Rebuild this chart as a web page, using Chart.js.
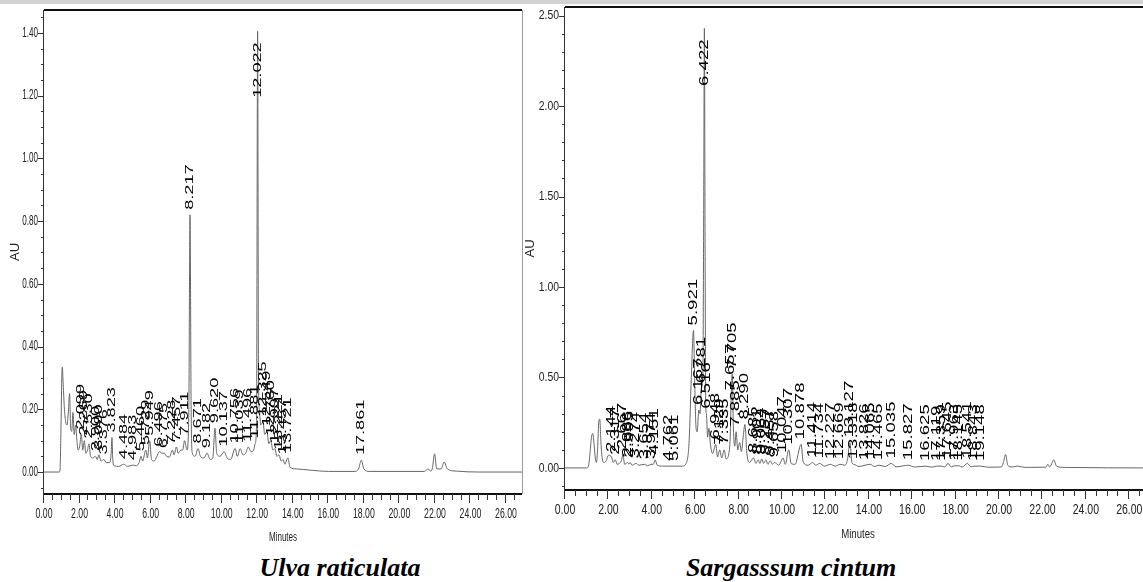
<!DOCTYPE html>
<html>
<head>
<meta charset="utf-8">
<title>Chromatograms</title>
<script src="https://cdn.jsdelivr.net/npm/chart.js@4.4.1/dist/chart.umd.min.js"></script>
<style>
  html, body { margin: 0; padding: 0; background: #fff; width: 1143px; height: 582px; overflow: hidden; position: relative; }
  .topband { position: absolute; left: 0; top: 0; width: 1143px; height: 4px; background: #d2d2d2; }
  canvas { position: absolute; top: 0; }
  #ulva { left: 0; }
  #sarg { left: 520px; }
  .name { position: absolute; top: 555px; font: italic bold 26px "Liberation Serif", "Times New Roman", serif; line-height: 26px; white-space: nowrap; transform: translateX(-50%); color: #000; }
</style>
</head>
<body>
<div class="topband"></div>
<canvas id="ulva" width="545" height="548"></canvas>
<canvas id="sarg" width="640" height="548"></canvas>
<div class="name" style="left:340px">Ulva raticulata</div>
<div class="name" style="left:791px">Sargasssum cintum</div>
<script>
"use strict";

// data

const ulvaMinutes = [0, 0.85, 0.9, 0.95, 1.0, 1.03, 1.08, 1.15, 1.22, 1.3, 1.38, 1.44, 1.5, 1.56, 1.63, 1.7, 1.78, 1.85, 1.92, 2.0,
  2.099, 2.18, 2.269, 2.35, 2.45, 2.53, 2.62, 2.75, 2.9, 3.0, 3.09, 3.2, 3.376, 3.5, 3.7, 3.78, 3.823, 3.87, 3.95, 4.2,
  4.484, 4.7, 4.983, 5.2, 5.35, 5.46, 5.55, 5.729, 5.82, 5.949, 6.05, 6.2, 6.35, 6.496, 6.65, 6.775, 6.9, 7.05, 7.228, 7.32,
  7.457, 7.55, 7.7, 7.8, 7.911, 8.05, 8.15, 8.217, 8.28, 8.35, 8.5, 8.671, 8.8, 9.0, 9.182, 9.35, 9.5, 9.62, 9.72, 9.9,
  10.137, 10.3, 10.5, 10.756, 10.88, 11.039, 11.2, 11.35, 11.496, 11.65, 11.8, 11.881, 11.96, 12.022, 12.07, 12.12, 12.2, 12.325, 12.42, 12.549,
  12.65, 12.76, 12.88, 12.997, 13.1, 13.221, 13.35, 13.457, 13.55, 13.721, 13.85, 14.2, 15.0, 16.0, 17.5, 17.7, 17.861, 18.0, 18.3, 21.4,
  21.62, 21.75, 21.85, 21.98, 22.1, 22.35, 22.52, 22.7, 23.2, 24.5, 26.9];
const ulvaAU = [0, 0, 0.005, 0.12, 0.3, 0.335, 0.28, 0.2, 0.16, 0.15, 0.2, 0.25, 0.14, 0.13, 0.19, 0.12, 0.15, 0.1, 0.07, 0.08,
  0.12, 0.07, 0.1, 0.06, 0.07, 0.09, 0.05, 0.045, 0.05, 0.04, 0.055, 0.035, 0.04, 0.03, 0.03, 0.06, 0.11, 0.04, 0.02, 0.018,
  0.025, 0.018, 0.022, 0.02, 0.03, 0.05, 0.035, 0.07, 0.045, 0.1, 0.04, 0.035, 0.05, 0.065, 0.06, 0.06, 0.05, 0.048, 0.07, 0.055,
  0.08, 0.06, 0.07, 0.07, 0.1, 0.07, 0.2, 0.82, 0.2, 0.06, 0.05, 0.075, 0.05, 0.045, 0.06, 0.04, 0.045, 0.14, 0.06, 0.05,
  0.065, 0.045, 0.04, 0.075, 0.05, 0.075, 0.055, 0.06, 0.08, 0.065, 0.07, 0.09, 0.15, 1.405, 0.3, 0.2, 0.15, 0.16, 0.12, 0.13,
  0.09, 0.1, 0.07, 0.075, 0.05, 0.055, 0.035, 0.04, 0.025, 0.045, 0.015, 0.01, 0.006, 0.002, 0.002, 0.01, 0.038, 0.01, 0.002, 0.002,
  0.01, 0.003, 0.01, 0.058, 0.01, 0.01, 0.032, 0.01, 0.003, 0, 0];
const ulvaPeaks = [2.099, 2.269, 2.530, 2.900, 3.090, 3.376, 3.823, 4.484, 4.983, 5.460, 5.729, 5.949, 6.496, 6.775, 7.228, 7.457, 7.911,
  8.217, 8.671, 9.182, 9.620, 10.137, 10.756, 11.039, 11.496, 11.881, 12.022, 12.325, 12.549, 12.760, 12.997, 13.221, 13.457, 13.721, 17.861];

const sargMinutes = [0, 1.0, 1.08, 1.15, 1.22, 1.28, 1.34, 1.4, 1.45, 1.5, 1.56, 1.6, 1.66, 1.72, 1.8, 1.9, 2.0, 2.144, 2.22, 2.317,
  2.4, 2.5, 2.6, 2.667, 2.75, 2.886, 2.95, 2.995, 3.1, 3.274, 3.4, 3.654, 3.8, 3.974, 4.07, 4.151, 4.25, 4.5, 4.762, 5.061,
  5.4, 5.6, 5.72, 5.82, 5.921, 5.98, 6.04, 6.09, 6.167, 6.22, 6.281, 6.35, 6.39, 6.422, 6.455, 6.485, 6.516, 6.57, 6.63, 6.7,
  6.8, 6.948, 7.03, 7.129, 7.22, 7.335, 7.42, 7.55, 7.62, 7.657, 7.705, 7.76, 7.82, 7.885, 7.96, 8.05, 8.13, 8.2, 8.29, 8.38,
  8.5, 8.685, 8.8, 8.901, 8.98, 9.064, 9.15, 9.257, 9.35, 9.457, 9.55, 9.658, 9.85, 10.047, 10.15, 10.307, 10.42, 10.6, 10.878, 10.98,
  11.2, 11.414, 11.55, 11.734, 11.95, 12.227, 12.45, 12.669, 12.9, 13.02, 13.127, 13.22, 13.318, 13.55, 13.826, 14.065, 14.25, 14.465, 14.75, 15.035,
  15.25, 15.827, 16.1, 16.625, 16.9, 17.119, 17.359, 17.5, 17.645, 17.8, 17.963, 18.145, 18.3, 18.541, 18.7, 18.843, 19.148, 19.5, 20.1, 20.2,
  20.3, 20.4, 20.6, 20.85, 21.2, 22.15, 22.25, 22.33, 22.45, 22.52, 22.65, 23.0, 27];
const sargAU = [0, 0, 0.01, 0.08, 0.17, 0.19, 0.13, 0.05, 0.03, 0.1, 0.26, 0.27, 0.13, 0.05, 0.03, 0.04, 0.07, 0.06, 0.03, 0.045,
  0.02, 0.025, 0.04, 0.075, 0.02, 0.03, 0.02, 0.03, 0.015, 0.025, 0.015, 0.02, 0.012, 0.02, 0.02, 0.045, 0.015, 0.01, 0.01, 0.01,
  0.01, 0.03, 0.15, 0.5, 0.76, 0.45, 0.22, 0.2, 0.32, 0.3, 0.44, 0.5, 1.4, 2.43, 1.2, 0.35, 0.3, 0.17, 0.22, 0.13,
  0.08, 0.13, 0.06, 0.1, 0.055, 0.1, 0.05, 0.08, 0.2, 0.4, 0.52, 0.22, 0.12, 0.2, 0.1, 0.14, 0.09, 0.16, 0.24, 0.08,
  0.03, 0.055, 0.025, 0.045, 0.025, 0.05, 0.025, 0.045, 0.02, 0.04, 0.02, 0.03, 0.015, 0.055, 0.02, 0.1, 0.025, 0.02, 0.13, 0.03,
  0.015, 0.03, 0.015, 0.025, 0.01, 0.02, 0.01, 0.02, 0.015, 0.05, 0.14, 0.03, 0.02, 0.008, 0.015, 0.02, 0.008, 0.015, 0.008, 0.025,
  0.006, 0.015, 0.005, 0.01, 0.004, 0.01, 0.01, 0.005, 0.025, 0.006, 0.012, 0.012, 0.005, 0.025, 0.006, 0.01, 0.01, 0.004, 0.005, 0.03,
  0.075, 0.015, 0.005, 0.01, 0.003, 0.004, 0.02, 0.005, 0.03, 0.045, 0.01, 0.003, 0];
const sargPeaks = [2.144, 2.317, 2.667, 2.886, 2.995, 3.274, 3.654, 3.974, 4.151, 4.762, 5.061, 5.921, 6.167, 6.281, 6.422, 6.516,
  6.948, 7.129, 7.335, 7.657, 7.705, 7.885, 8.290, 8.685, 8.901, 9.064, 9.257, 9.457, 9.658, 10.047, 10.307, 10.878, 11.414, 11.734,
  12.227, 12.669, 13.127, 13.318, 13.826, 14.065, 14.465, 15.035, 15.827, 16.625, 17.119, 17.359, 17.645, 17.963, 18.145, 18.541,
  18.843, 19.148];

const minuteTicks = [0, 2, 4, 6, 8, 10, 12, 14, 16, 18, 20, 22, 24, 26];
const ulvaTicks = [0, 0.2, 0.4, 0.6, 0.8, 1.0, 1.2, 1.4];
const sargTicks = [0, 0.5, 1.0, 1.5, 2.0, 2.5];

// helpers

function valueAt(xs, ys, t) {
  for (let i = 1; i < xs.length; i++) {
    if (xs[i] >= t) {
      const f = (t - xs[i - 1]) / (xs[i] - xs[i - 1]);
      return ys[i - 1] + f * (ys[i] - ys[i - 1]);
    }
  }
  return ys[ys.length - 1];
}

function squeezed(ctx, text, x, y, sx) {
  ctx.save();
  ctx.translate(x, y);
  ctx.scale(sx, 1);
  ctx.fillText(text, 0, 0);
  ctx.restore();
}

function line(ctx, x1, y1, x2, y2) {
  ctx.beginPath();
  ctx.moveTo(x1, y1);
  ctx.lineTo(x2, y2);
  ctx.stroke();
}

// frame, ticks and peak labels of the chromatogram
const chromPlugin = {
  id: 'chrom',
  afterDatasetsDraw(chart, args, o) {
    const { ctx, chartArea: a } = chart;
    const xs = chart.scales.x;
    const ys = chart.scales.y;
    ctx.save();

    // peak labels
    ctx.fillStyle = '#000';
    ctx.font = o.peakFont;
    ctx.textAlign = 'left';
    ctx.textBaseline = 'middle';
    o.peaks.forEach(p => {
      const text = p.toFixed(3);
      const px = xs.getPixelForValue(p);
      const apex = ys.getPixelForValue(valueAt(o.minutes, o.au, p));
      const len = ctx.measureText(text).width * o.stretch;
      let start = apex - 5;
      if (start - len < a.top + 6) start = apex + 11 + len;
      ctx.save();
      ctx.translate(px, start);
      ctx.rotate(-Math.PI / 2);
      ctx.scale(o.stretch, 1);
      ctx.fillText(text, 0, 0);
      ctx.restore();
    });

    // frame
    ctx.strokeStyle = '#111';
    ctx.lineWidth = 2;
    line(ctx, a.left, a.top, a.right, a.top);
    line(ctx, a.left, a.bottom, a.right, a.bottom);
    ctx.lineWidth = 1;
    if (o.rightBorder) {
      ctx.strokeStyle = '#9a9a9a';
      line(ctx, Math.round(a.right) + 0.5, a.top, Math.round(a.right) + 0.5, a.bottom);
    }
    ctx.strokeStyle = '#333';
    line(ctx, Math.round(a.left) - 0.5, a.top, Math.round(a.left) - 0.5, a.bottom + 9);

    // y ticks
    for (let v = Math.ceil(ys.min / o.yMinor) * o.yMinor; v <= ys.max + 1e-9; v += o.yMinor) {
      const major = o.yTicks.some(t => Math.abs(t - v) < 1e-6);
      const py = Math.round(ys.getPixelForValue(v)) + 0.5;
      line(ctx, a.left - (major ? 6 : 3), py, a.left, py);
    }
    // x ticks
    for (let v = 0; v <= xs.max + 1e-9; v += 0.5) {
      const major = minuteTicks.includes(v);
      const px = Math.round(xs.getPixelForValue(v)) - 0.5;
      line(ctx, px, a.bottom, px, a.bottom + (major ? 9 : 6));
    }

    // tick labels
    ctx.fillStyle = '#222';
    ctx.font = o.yFont;
    ctx.textAlign = 'right';
    ctx.textBaseline = 'middle';
    o.yTicks.forEach(t => squeezed(ctx, t.toFixed(2), a.left - 6, ys.getPixelForValue(t), o.ySqueeze));
    ctx.font = o.xFont;
    ctx.textAlign = 'center';
    minuteTicks.forEach(t => squeezed(ctx, t.toFixed(2), xs.getPixelForValue(t), a.bottom + o.xLabelGap, o.xSqueeze));

    // axis titles
    ctx.font = '12px "Liberation Sans", Arial, sans-serif';
    squeezed(ctx, 'Minutes', (a.left + a.right) / 2, a.bottom + o.titleGap, o.titleSqueeze);
    ctx.save();
    ctx.translate(o.auX, (a.top + a.bottom) / 2);
    ctx.rotate(-Math.PI / 2);
    ctx.font = '13px "Liberation Sans", Arial, sans-serif';
    ctx.fillText('AU', 0, 0);
    ctx.restore();

    ctx.restore();
  }
};

function traceConfig(minutes, au, xMax, yMin, yMax, box, chrom) {
  return {
    type: 'line',
    data: {
      datasets: [{
        data: minutes.map((t, i) => ({ x: t, y: au[i] })),
        borderColor: '#666',
        borderWidth: 1,
        pointRadius: 0,
        cubicInterpolationMode: 'monotone',
        fill: false
      }]
    },
    options: {
      responsive: false,
      animation: false,
      devicePixelRatio: 1,
      layout: { padding: { top: box.top, right: box.right, left: 0, bottom: 0 } },
      scales: {
        x: {
          type: 'linear', min: 0, max: xMax,
          ticks: { display: false }, grid: { display: false }, border: { display: false },
          afterFit: s => { s.height = box.xHeight; }
        },
        y: {
          type: 'linear', min: yMin, max: yMax,
          ticks: { display: false }, grid: { display: false }, border: { display: false },
          afterFit: s => { s.width = box.yWidth; }
        }
      },
      plugins: {
        legend: { display: false },
        tooltip: { enabled: false },
        chrom: chrom
      }
    },
    plugins: [chromPlugin]
  };
}

// charts

const ulvaChart = new Chart(
  document.getElementById('ulva'),
  traceConfig(ulvaMinutes, ulvaAU, 26.9, -0.07, 1.473,
    { top: 10, right: 23, xHeight: 54, yWidth: 44 },
    {
      minutes: ulvaMinutes, au: ulvaAU, peaks: ulvaPeaks,
      peakFont: '11px "Liberation Sans", Arial, sans-serif', stretch: 1.65,
      yTicks: ulvaTicks, yMinor: 0.05, rightBorder: true,
      yFont: '14px "Liberation Sans", Arial, sans-serif', ySqueeze: 0.58,
      xFont: '15px "Liberation Sans", Arial, sans-serif', xSqueeze: 0.58, xLabelGap: 20,
      titleGap: 44, titleSqueeze: 0.67, auX: 15
    }));

const sargChart = new Chart(
  document.getElementById('sarg'),
  traceConfig(sargMinutes, sargAU, 27, -0.122, 2.548,
    { top: 7, right: 9, xHeight: 58, yWidth: 45 },
    {
      minutes: sargMinutes, au: sargAU, peaks: sargPeaks,
      peakFont: '12px "Liberation Sans", Arial, sans-serif', stretch: 1.55,
      yTicks: sargTicks, yMinor: 0.1, rightBorder: false,
      yFont: '13px "Liberation Sans", Arial, sans-serif', ySqueeze: 0.8,
      xFont: '14px "Liberation Sans", Arial, sans-serif', xSqueeze: 0.75, xLabelGap: 20,
      titleGap: 45, titleSqueeze: 0.8, auX: 10
    }));
</script>
</body>
</html>
